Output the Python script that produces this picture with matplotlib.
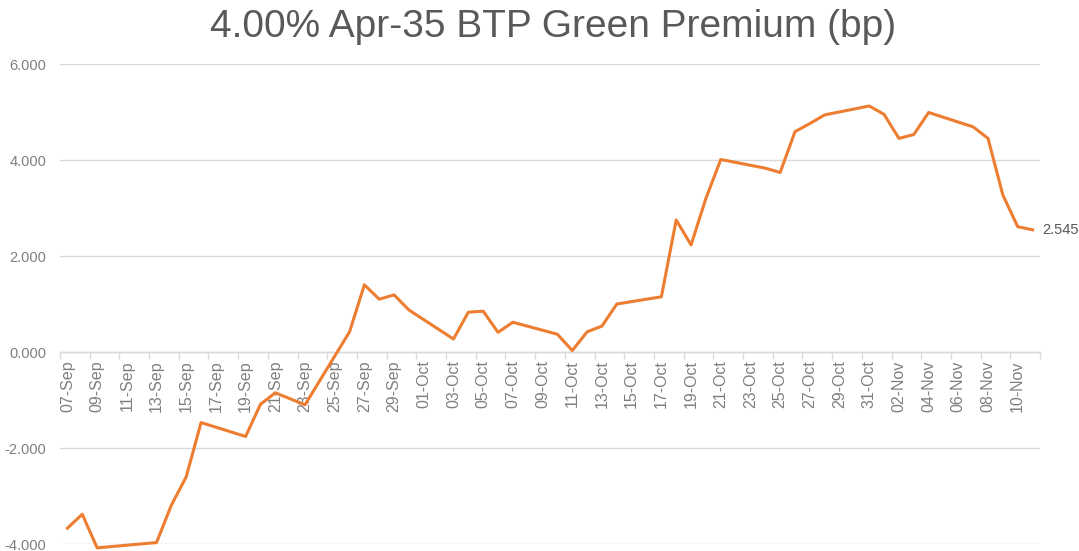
import matplotlib
matplotlib.use("Agg")
import matplotlib.pyplot as plt
import matplotlib.dates as mdates
import numpy as np
import datetime as dt

plt.rcParams['font.family'] = ['Liberation Sans', 'DejaVu Sans']

title = "4.00% Apr-35 BTP Green Premium (bp)"
dates = ["2022-09-07", "2022-09-08", "2022-09-09", "2022-09-13", "2022-09-14",
         "2022-09-15", "2022-09-16", "2022-09-19", "2022-09-20", "2022-09-21",
         "2022-09-23", "2022-09-26", "2022-09-27", "2022-09-28", "2022-09-29",
         "2022-09-30", "2022-10-03", "2022-10-04", "2022-10-05", "2022-10-06",
         "2022-10-07", "2022-10-10", "2022-10-11", "2022-10-12", "2022-10-13",
         "2022-10-14", "2022-10-17", "2022-10-18", "2022-10-19", "2022-10-20",
         "2022-10-21", "2022-10-24", "2022-10-25", "2022-10-26", "2022-10-27",
         "2022-10-28", "2022-10-31", "2022-11-01", "2022-11-02", "2022-11-03",
         "2022-11-04", "2022-11-07", "2022-11-08", "2022-11-09", "2022-11-10",
         "2022-11-11"]
premium = [-3.67, -3.38, -4.08, -3.97, -3.19,
           -2.60, -1.47, -1.76, -1.09, -0.85,
           -1.10, 0.42, 1.40, 1.10, 1.19,
           0.875, 0.27, 0.83, 0.85, 0.41,
           0.62, 0.37, 0.03, 0.42, 0.54,
           1.00, 1.15, 2.75, 2.23, 3.20,
           4.01, 3.83, 3.74, 4.59, 4.76,
           4.94, 5.125, 4.95, 4.45, 4.53,
           4.99, 4.69, 4.45, 3.27, 2.61,
           2.545]
y_ticks = [-4, -2, 0, 2, 4, 6]
axis_start = "2022-09-07"
axis_end = "2022-11-11"

x = [dt.datetime.strptime(d, "%Y-%m-%d") for d in dates]
x0 = dt.datetime.strptime(axis_start, "%Y-%m-%d")
x1 = dt.datetime.strptime(axis_end, "%Y-%m-%d")
half = dt.timedelta(hours=12)

W, H = 1079, 551
fig = plt.figure(figsize=(W / 100, H / 100), dpi=100)
ax = fig.add_axes([60 / W, 1 - 544 / H, (1040 - 60) / W, (544 - 64) / H])

orange = "#ED7D31"
grey_txt = "#595959"
tick_txt = "#7F7F7F"
grid_c = "#D9D9D9"

ax.plot(x, premium, color=orange, lw=2.2, clip_on=False, zorder=3,
        solid_joinstyle='round')

ax.set_xlim(x0 - half, x1 + half)
ax.set_ylim(-4, 6)
ax.set_yticks(y_ticks)
ax.set_yticklabels([f"{v:.3f}" for v in y_ticks])
ax.yaxis.grid(True, color=grid_c, lw=1)
ax.set_axisbelow(True)

for s in ['top', 'right', 'left']:
    ax.spines[s].set_visible(False)
ax.spines['bottom'].set_position(('data', 0))
ax.spines['bottom'].set_color(grid_c)
ax.spines['bottom'].set_linewidth(1)

# labels at every second date, tick marks between
label_dates = mdates.drange(x0, x1 + dt.timedelta(days=1), dt.timedelta(days=2))
ax.set_xticks(label_dates)
ax.xaxis.set_major_formatter(mdates.DateFormatter("%d-%b"))
bound = mdates.drange(x0 - half, x1 + half + dt.timedelta(hours=1), dt.timedelta(days=2))
ax.set_xticks(bound, minor=True)
ax.tick_params(axis='x', which='major', length=0, pad=6, labelsize=11.5,
               labelcolor=tick_txt, labelrotation=90)
ax.tick_params(axis='x', which='minor', length=5, color=grid_c, width=1,
               direction='out')
ax.tick_params(axis='y', length=0, pad=10, labelsize=10.5, labelcolor=tick_txt)

ax.annotate(f"{premium[-1]:.3f}", xy=(x[-1], premium[-1]), xytext=(7, 0),
            textcoords='offset points', va='center', ha='left',
            fontsize=10.5, color=grey_txt)

fig.text(553 / W, 1 - 27 / H, title, ha='center', va='center',
         fontsize=28, color=grey_txt)

fig.savefig("out.png", dpi=100, facecolor='white')
